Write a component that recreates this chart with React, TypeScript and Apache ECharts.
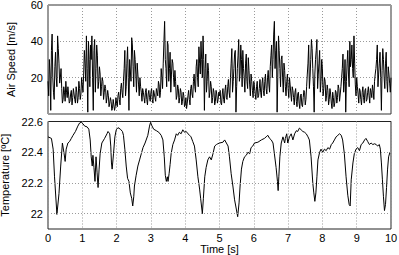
import React, { useEffect, useRef } from "react";
import * as echarts from "echarts";

// ---------- Data ----------
const X_TICKS = [0, 1, 2, 3, 4, 5, 6, 7, 8, 9, 10];
const SPEED_DT = 0.04; // seconds between samples of each air-speed array
// samples at t = 0.00, 0.04, 0.08, ... 10.00
const SPEED_VALUES = [
  18, 30, 2, 44, 12, 26, 20, 43, 28, 20, 14, 8, 12, 18, 9, 11, 7, 13, 9, 11, 6, 12, 9, 14, 11,
  16, 22, 28, 43, 1, 30, 38, 43, 2, 41, 25, 32, 18, 22, 15, 18, 12, 14, 9, 10, 6, 7, 3, 5, 4,
  6, 10, 8, 14, 12, 18, 35, 15, 37, 2, 30, 42, 26, 35, 22, 28, 16, 20, 12, 14, 9, 12, 8, 11, 9,
  12, 8, 13, 9, 14, 10, 16, 12, 20, 28, 51, 25, 40, 18, 34, 22, 28, 15, 18, 10, 14, 9, 12, 7, 10,
  5, 3, 10, 8, 14, 11, 18, 15, 26, 20, 37, 22, 30, 43, 2, 33, 18, 24, 12, 15, 9, 12, 7, 11, 8,
  10, 6, 11, 8, 13, 9, 15, 12, 20, 36, 18, 33, 1, 25, 41, 22, 30, 35, 20, 28, 18, 31, 16, 22, 13,
  18, 11, 15, 9, 14, 12, 17, 13, 18, 14, 20, 16, 26, 38, 30, 51, 35, 1, 43, 25, 30, 20, 28, 15, 18,
  14, 20, 11, 15, 9, 12, 7, 11, 6, 10, 5, 9, 12, 8, 22, 38, 20, 41, 25, 1, 30, 41, 22, 35, 18,
  25, 14, 18, 10, 13, 8, 11, 3, 9, 6, 12, 9, 14, 11, 20, 33, 18, 1, 28, 22, 40, 30, 25, 43, 16,
  20, 11, 14, 8, 12, 9, 13, 7, 12, 10, 14, 9, 13, 18, 25, 38, 22, 34, 2, 36, 20, 28, 18, 26, 17, 20,
];
// samples at t = 0.02, 0.06, 0.10, ... 9.98
const SPEED_VALUES_MID = [
  10, 22, 35, 20, 8, 34, 15, 36, 17, 25, 6, 15, 7, 12, 15, 6, 11, 5, 14, 8, 15, 6, 18, 8, 20,
  12, 35, 18, 25, 40, 15, 30, 20, 35, 12, 38, 14, 26, 10, 20, 8, 16, 6, 13, 4, 9, 2, 8, 2, 9,
  4, 12, 5, 17, 9, 25, 10, 28, 20, 30, 18, 38, 15, 30, 12, 22, 10, 15, 7, 12, 6, 14, 5, 13, 7,
  14, 6, 11, 7, 12, 18, 9, 25, 14, 40, 30, 15, 38, 25, 12, 30, 20, 24, 8, 16, 6, 14, 5, 12, 4,
  9, 6, 13, 5, 16, 9, 22, 12, 30, 15, 28, 40, 20, 30, 25, 12, 28, 9, 18, 6, 14, 5, 13, 6, 12,
  13, 5, 14, 6, 16, 8, 19, 9, 28, 12, 25, 35, 15, 32, 18, 38, 15, 25, 12, 33, 14, 24, 10, 18, 9,
  15, 8, 18, 10, 19, 9, 20, 10, 22, 11, 24, 12, 32, 20, 44, 25, 40, 20, 35, 15, 32, 12, 24, 10, 22,
  9, 16, 7, 13, 5, 14, 4, 12, 3, 11, 4, 13, 5, 15, 28, 14, 30, 36, 15, 22, 35, 14, 28, 12, 30,
  10, 20, 7, 16, 5, 14, 6, 12, 4, 13, 6, 16, 7, 15, 25, 12, 30, 18, 35, 15, 26, 38, 20, 28, 10,
  15, 6, 13, 5, 15, 6, 14, 8, 15, 6, 12, 16, 8, 22, 30, 15, 28, 20, 24, 30, 14, 34, 12, 22, 12,
];

const TEMP_T = [
  0.0, 0.1, 0.15, 0.19, 0.26, 0.32, 0.37, 0.42, 0.44, 0.47, 0.5, 0.53, 0.58, 0.63, 0.68, 0.73, 0.8, 0.87, 0.92, 0.97,
  1.02, 1.07, 1.14, 1.19, 1.23, 1.26, 1.29, 1.31, 1.34, 1.37, 1.4, 1.43, 1.46, 1.49, 1.52, 1.57, 1.65, 1.72, 1.75, 1.8,
  1.83, 1.85, 1.87, 1.91, 1.95, 1.99, 2.04, 2.11, 2.17, 2.2, 2.24, 2.28, 2.32, 2.36, 2.4, 2.44, 2.47, 2.5, 2.52, 2.57,
  2.62, 2.67, 2.72, 2.77, 2.83, 2.91, 2.96, 2.99, 3.03, 3.08, 3.16, 3.23, 3.3, 3.35, 3.39, 3.42, 3.45, 3.48, 3.5, 3.53,
  3.56, 3.59, 3.64, 3.69, 3.74, 3.78, 3.83, 3.88, 3.93, 3.98, 4.03, 4.08, 4.13, 4.17, 4.22, 4.27, 4.32, 4.37, 4.42, 4.45,
  4.5, 4.53, 4.57, 4.61, 4.66, 4.71, 4.76, 4.81, 4.86, 4.91, 4.95, 5.0, 5.1, 5.15, 5.2, 5.25, 5.29, 5.34, 5.39, 5.44,
  5.49, 5.53, 5.57, 5.6, 5.64, 5.68, 5.73, 5.78, 5.83, 5.88, 5.92, 5.97, 6.02, 6.12, 6.22, 6.31, 6.36, 6.41, 6.46, 6.51,
  6.56, 6.6, 6.65, 6.69, 6.71, 6.73, 6.76, 6.8, 6.85, 6.9, 6.92, 6.96, 6.99, 7.04, 7.09, 7.14, 7.19, 7.24, 7.28, 7.33,
  7.38, 7.43, 7.48, 7.53, 7.58, 7.62, 7.67, 7.72, 7.75, 7.78, 7.81, 7.84, 7.87, 7.92, 7.96, 8.01, 8.06, 8.11, 8.16, 8.21,
  8.26, 8.3, 8.35, 8.4, 8.45, 8.5, 8.55, 8.59, 8.64, 8.69, 8.74, 8.78, 8.81, 8.84, 8.89, 8.93, 8.98, 9.03, 9.08, 9.13,
  9.18, 9.23, 9.27, 9.32, 9.37, 9.42, 9.47, 9.52, 9.57, 9.61, 9.66, 9.69, 9.72, 9.75, 9.78, 9.81, 9.84, 9.87, 9.9, 9.93,
  9.97, 10.0,
];
const TEMP_V = [
  22.5, 22.49, 22.42, 22.24, 21.995, 22.13, 22.31, 22.46, 22.46, 22.39, 22.34, 22.42, 22.46, 22.47, 22.49, 22.51, 22.535, 22.57, 22.59, 22.595,
  22.585, 22.57, 22.565, 22.55, 22.48, 22.37, 22.31, 22.38, 22.3, 22.21, 22.37, 22.27, 22.17, 22.29, 22.39, 22.46, 22.49, 22.52, 22.535, 22.52,
  22.44, 22.33, 22.29, 22.39, 22.5, 22.546, 22.56, 22.55, 22.535, 22.51, 22.42, 22.31, 22.23, 22.21, 22.135, 22.1, 22.05, 22.11, 22.18, 22.25,
  22.31, 22.35, 22.39, 22.43, 22.46, 22.51, 22.57, 22.594, 22.572, 22.55, 22.54, 22.53, 22.51, 22.48, 22.37, 22.25, 22.21, 22.24, 22.21, 22.26,
  22.32, 22.39, 22.45, 22.48, 22.52, 22.51, 22.53, 22.52, 22.546, 22.53, 22.535, 22.52, 22.51, 22.5, 22.47, 22.44, 22.35, 22.24, 22.16, 22.1,
  22.0, 22.1, 22.24, 22.3, 22.35, 22.37, 22.35, 22.39, 22.44, 22.45, 22.455, 22.46, 22.465, 22.48, 22.46, 22.44, 22.37, 22.26, 22.18, 22.09,
  22.03, 21.98, 22.07, 22.18, 22.29, 22.34, 22.37, 22.38, 22.4, 22.39, 22.43, 22.44, 22.46, 22.465, 22.48, 22.49, 22.5, 22.51, 22.49, 22.48,
  22.46, 22.39, 22.3, 22.21, 22.15, 22.24, 22.37, 22.46, 22.5, 22.46, 22.49, 22.52, 22.46, 22.5, 22.52, 22.48, 22.52, 22.54, 22.535, 22.557,
  22.546, 22.535, 22.53, 22.52, 22.5, 22.48, 22.37, 22.2, 22.135, 22.08, 22.135, 22.24, 22.35, 22.4, 22.42, 22.4, 22.42, 22.41, 22.43, 22.42,
  22.45, 22.46, 22.48, 22.5, 22.51, 22.52, 22.51, 22.48, 22.39, 22.24, 22.12, 22.06, 22.05, 22.22, 22.33, 22.39, 22.42, 22.43, 22.41, 22.45,
  22.46, 22.48, 22.49, 22.47, 22.45, 22.46, 22.45, 22.455, 22.45, 22.44, 22.45, 22.42, 22.33, 22.22, 22.11, 22.02, 22.06, 22.17, 22.29, 22.37,
  22.4, 22.395,
];
const SPEED_TICKS = [0, 20, 40, 60];
const TEMP_TICK_LABELS = [22, 22.2, 22.4, 22.6];
const TEMP_GRID = [22, 22.2, 22.4];

const FONT = "Liberation Sans, Arial, Helvetica, sans-serif";
const GRID_LINE = { type: [1, 2] as number[], color: "#9a9a9a", width: 1 };

export default function App() {
  const ref = useRef<HTMLDivElement>(null);
  useEffect(() => {
    if (!ref.current) return;
    const chart = echarts.init(ref.current, undefined, { renderer: "svg" });
    const speedData: number[][] = [];
    SPEED_VALUES.forEach((v, i) => {
      speedData.push([Number((i * SPEED_DT).toFixed(2)), v]);
      if (i < SPEED_VALUES_MID.length) {
        speedData.push([Number((i * SPEED_DT + SPEED_DT / 2).toFixed(2)), SPEED_VALUES_MID[i]]);
      }
    });
    const tempData = TEMP_T.map((t, i) => [t, TEMP_V[i]]);
    const labelStyle = { color: "#000", fontFamily: FONT, fontSize: 11 };
    chart.setOption({
      animation: false,
      backgroundColor: "#fff",
      grid: [
        { left: 48, right: 8, top: 5, height: 109, show: true, borderColor: "#333", borderWidth: 1, backgroundColor: "#fff", containLabel: false, outerBoundsMode: "none" },
        { left: 48, right: 8, top: 121.5, height: 107.5, show: true, borderColor: "#222", borderWidth: 1, backgroundColor: "#fff", containLabel: false, outerBoundsMode: "none" },
      ],
      xAxis: [
        {
          type: "value", gridIndex: 0, min: X_TICKS[0], max: X_TICKS[X_TICKS.length - 1], interval: 1,
          axisLine: { show: false }, axisTick: { show: false }, axisLabel: { show: false },
          splitLine: { show: true, lineStyle: GRID_LINE },
        },
        {
          type: "value", gridIndex: 1, min: X_TICKS[0], max: X_TICKS[X_TICKS.length - 1], interval: 1,
          axisLine: { show: false }, axisTick: { show: false },
          axisLabel: { ...labelStyle, margin: 3 },
          splitLine: { show: true, lineStyle: GRID_LINE },
          name: "Time [s]", nameLocation: "middle", nameGap: 13,
          nameTextStyle: { ...labelStyle },
        },
      ],
      yAxis: [
        {
          type: "value", gridIndex: 0, min: SPEED_TICKS[0], max: SPEED_TICKS[SPEED_TICKS.length - 1], interval: 20,
          axisLine: { show: false }, axisTick: { show: false },
          axisLabel: { ...labelStyle, margin: 5, formatter: (v: number) => (v === 0 ? "" : String(v)) },
          splitLine: { show: true, lineStyle: GRID_LINE },
          name: "Air Speed [m/s]", nameLocation: "middle", nameGap: 32,
          nameTextStyle: { ...labelStyle },
        },
        {
          type: "value", gridIndex: 1, min: 21.9, max: 22.6, interval: 0.1,
          axisLine: { show: false }, axisTick: { show: false },
          axisLabel: {
            ...labelStyle, margin: 5,
            formatter: (v: number) => {
              const hit = TEMP_TICK_LABELS.find((t) => Math.abs(t - v) < 1e-6);
              return hit === undefined ? "" : String(hit);
            },
          },
          splitLine: { show: false },
          name: "Temperature [ºC]", nameLocation: "middle", nameGap: 37,
          nameTextStyle: { ...labelStyle },
        },
      ],
      series: [
        {
          type: "line", xAxisIndex: 0, yAxisIndex: 0, data: speedData, showSymbol: false, symbol: "none",
          lineStyle: { color: "#000", width: 1 }, silent: true,
        },
        {
          type: "line", xAxisIndex: 1, yAxisIndex: 1, data: tempData, showSymbol: false, symbol: "none",
          lineStyle: { color: "#000", width: 1 }, silent: true,
          markLine: {
            silent: true, symbol: "none", label: { show: false }, animation: false,
            lineStyle: GRID_LINE,
            data: TEMP_GRID.map((v) => ({ yAxis: v })),
          },
        },
      ],
    });
    return () => chart.dispose();
  }, []);
  return (
    <div
      ref={ref}
      style={{ position: "fixed", left: 0, top: 0, width: 399, height: 255, background: "#fff" }}
    />
  );
}
